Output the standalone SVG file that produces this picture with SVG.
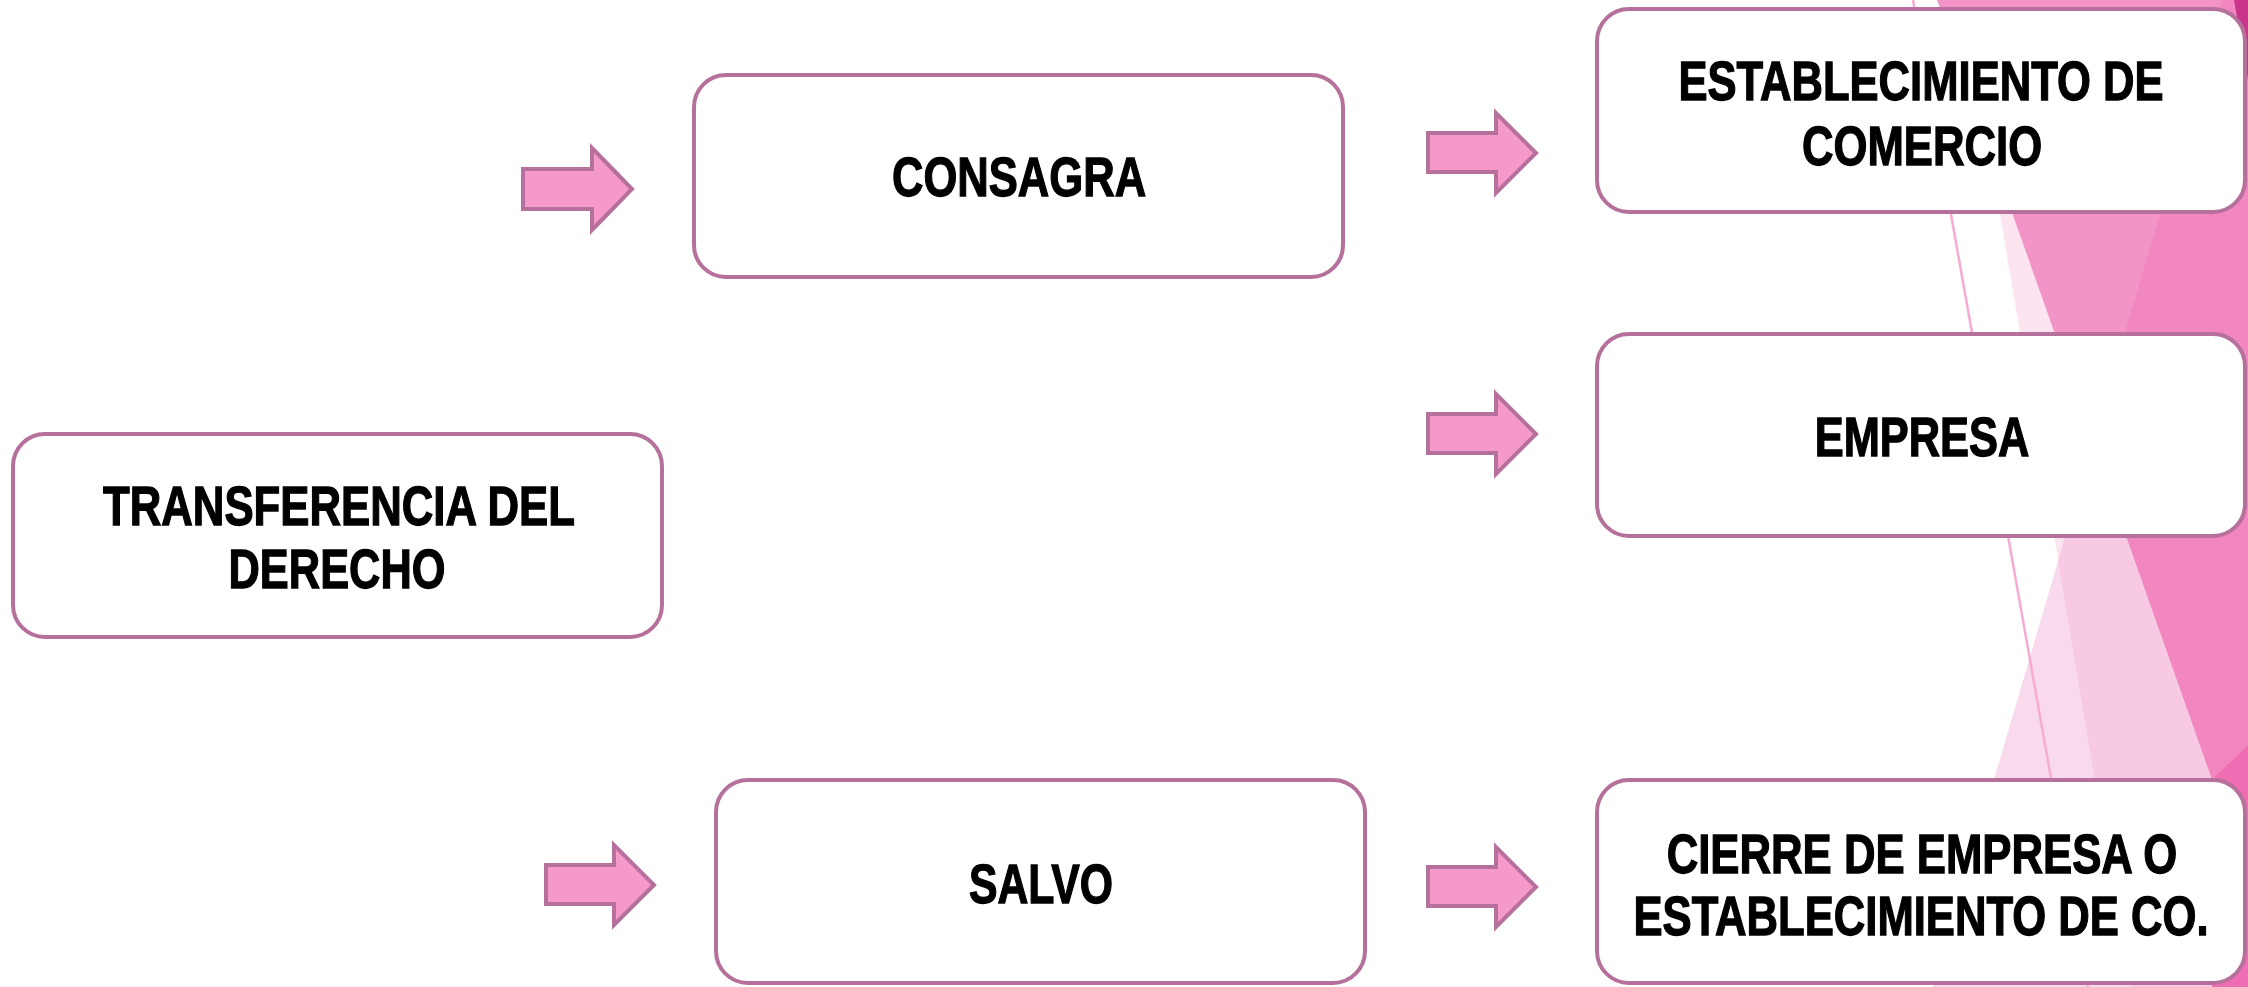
<svg xmlns="http://www.w3.org/2000/svg" width="2248" height="987" viewBox="0 0 2248 987">
<style>
.box{fill:#ffffff;stroke:#b5709b;stroke-width:4}
.arr{fill:#f598ca;stroke:#b5709b;stroke-width:4;stroke-linejoin:miter}
.t{font-family:"Liberation Sans",Arial,sans-serif;font-weight:bold;font-size:56px;fill:#000000;stroke:#000000;stroke-width:1.3;text-anchor:middle}
</style>
<rect x="0" y="0" width="2248" height="987" fill="#ffffff"/>
<g id="background">
<polygon points="1964,0 2248,0 2248,987 2130,987" fill="#fce5f1"/>
<polygon points="2223,0 2248,0 2248,987 1933,987" fill="#f9d9ec"/>
<polygon points="2223,0 2248,0 2248,987 2130,987 2058,561" fill="#f7c9e3"/>
<polygon points="1937,0 2248,0 2248,881" fill="#f394c8"/>
<polygon points="2223,0 2248,0 2248,881 2093,442" fill="#f286c0"/>
<polygon points="2212,780 2248,745 2248,987 2212,987" fill="#ef6db2"/>
<polygon points="2234,0 2248,0 2248,80" fill="#c8358a"/>
<line x1="1913" y1="0" x2="2088" y2="987" stroke="#f7aad2" stroke-width="2.5"/>
</g>
<g id="connectors">
<polygon class="arr" points="523,169 592,169 592,148 632,189 592,230 592,209 523,209"/>
<polygon class="arr" points="1428,133 1496,133 1496,113 1536,153 1496,193 1496,172 1428,172"/>
<polygon class="arr" points="1428,414 1496,414 1496,394 1536,434 1496,474 1496,453 1428,453"/>
<polygon class="arr" points="546,865 614,865 614,845 654,885 614,925 614,904 546,904"/>
<polygon class="arr" points="1428,867 1496,867 1496,847 1536,887 1496,927 1496,906 1428,906"/>
</g>
<g id="node-transferencia">
<rect class="box" x="13" y="434" width="649" height="203" rx="32"/>
<text class="t" transform="translate(339,525) scale(0.775,1)" textLength="609" lengthAdjust="spacingAndGlyphs">TRANSFERENCIA DEL</text>
<text class="t" transform="translate(337,588) scale(0.775,1)" textLength="280" lengthAdjust="spacingAndGlyphs">DERECHO</text>
</g>
<g id="node-consagra">
<rect class="box" x="694" y="75" width="649" height="202" rx="32"/>
<text class="t" transform="translate(1019,196) scale(0.775,1)" textLength="328" lengthAdjust="spacingAndGlyphs">CONSAGRA</text>
</g>
<g id="node-establecimiento">
<rect class="box" x="1597" y="9" width="648" height="203" rx="32"/>
<text class="t" transform="translate(1921,100) scale(0.775,1)" textLength="626" lengthAdjust="spacingAndGlyphs">ESTABLECIMIENTO DE</text>
<text class="t" transform="translate(1922,165) scale(0.775,1)" textLength="310" lengthAdjust="spacingAndGlyphs">COMERCIO</text>
</g>
<g id="node-empresa">
<rect class="box" x="1597" y="334" width="648" height="202" rx="32"/>
<text class="t" transform="translate(1922,456) scale(0.775,1)" textLength="277" lengthAdjust="spacingAndGlyphs">EMPRESA</text>
</g>
<g id="node-salvo">
<rect class="box" x="716" y="780" width="649" height="203" rx="32"/>
<text class="t" transform="translate(1041,903) scale(0.775,1)" textLength="186" lengthAdjust="spacingAndGlyphs">SALVO</text>
</g>
<g id="node-cierre">
<rect class="box" x="1597" y="780" width="648" height="203" rx="32"/>
<text class="t" transform="translate(1922,873) scale(0.775,1)" textLength="659" lengthAdjust="spacingAndGlyphs">CIERRE DE EMPRESA O</text>
<text class="t" transform="translate(1921,935) scale(0.775,1)" textLength="742" lengthAdjust="spacingAndGlyphs">ESTABLECIMIENTO DE CO.</text>
</g>
</svg>
